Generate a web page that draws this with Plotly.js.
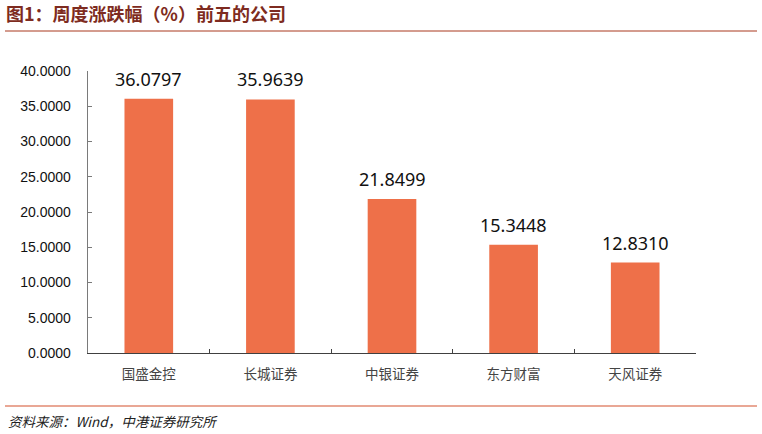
<!DOCTYPE html>
<html><head><meta charset="utf-8">
<script src="https://cdn.plot.ly/plotly-3.0.1.min.js"></script>
<style>html,body{margin:0;padding:0;background:#fff;}#chart{width:762px;height:434px;}</style>
</head><body><div id="chart"></div>
<script>
const categories = ["国盛金控", "长城证券", "中银证券", "东方财富", "天风证券"];
const values = [36.0797, 35.9639, 21.8499, 15.3448, 12.8310];
const valueLabels = ["36.0797", "35.9639", "21.8499", "15.3448", "12.8310"];
const titleText = "图1：周度涨跌幅（%）前五的公司";
const sourceText = "资料来源：Wind，中港证券研究所";

const L = 88, R = 66, T = 71, B = 81, W = 762, H = 434;
const pw = W - L - R, ph = H - T - B;
const px = x => (x - L) / pw;
const py = y => (H - B - y) / ph;

const trace = {
  type: 'bar', x: categories, y: values,
  marker: {color: '#EE7049', line: {width: 0}},
  width: 0.4, hoverinfo: 'none'
};

const annotations = categories.map((c, i) => ({
  x: c, y: values[i], xref: 'x', yref: 'y', text: valueLabels[i],
  showarrow: false, yanchor: 'bottom', yshift: 6,
  font: {family: 'Noto Sans, Liberation Sans, sans-serif', size: 18, color: '#111'}
}));
annotations.push({
  xref: 'paper', yref: 'paper', x: px(6), y: py(421), xanchor: 'left', yanchor: 'middle',
  text: '<i>' + sourceText + '</i>', showarrow: false,
  font: {family: 'Noto Sans CJK SC, Liberation Sans, sans-serif', size: 13.5, color: '#222'}
});

const layout = {
  width: W, height: H,
  margin: {l: L, r: R, t: T, b: B},
  paper_bgcolor: '#fff', plot_bgcolor: '#fff',
  showlegend: false,
  title: {
    text: '<b>' + titleText + '</b>', xref: 'container', yref: 'container',
    x: 6 / W, xanchor: 'left', y: 1 - 15 / H, yanchor: 'middle',
    font: {family: 'Noto Sans CJK SC, sans-serif', size: 18, color: '#7E2B20'}
  },
  xaxis: {
    type: 'category', showline: true, linecolor: '#404040', linewidth: 1.3,
    ticks: 'inside', tickson: 'boundaries', ticklen: 4, tickcolor: '#404040',
    ticklabelstandoff: 8,
    showgrid: false, zeroline: false,
    tickfont: {family: 'Noto Sans CJK SC, sans-serif', size: 13.5, color: '#444'}
  },
  yaxis: {
    range: [0, 40], dtick: 5, tickformat: '.4f',
    showline: true, linecolor: '#7a7a7a', linewidth: 1.3,
    ticks: 'inside', ticklen: 4, tickcolor: '#7a7a7a',
    ticklabelstandoff: 13,
    showgrid: false, zeroline: false,
    tickfont: {family: 'Liberation Sans, Arial, sans-serif', size: 14, color: '#111'}
  },
  shapes: [
    {type: 'line', xref: 'paper', yref: 'paper', x0: px(5), x1: px(757), y0: py(31), y1: py(31),
     line: {color: '#A9381E', width: 1}},
    {type: 'line', xref: 'paper', yref: 'paper', x0: px(5), x1: px(757), y0: py(406), y1: py(406),
     line: {color: '#E28A72', width: 1.5}}
  ],
  annotations: annotations
};

Plotly.newPlot('chart', [trace], layout, {displayModeBar: false, staticPlot: true});
</script></body></html>
